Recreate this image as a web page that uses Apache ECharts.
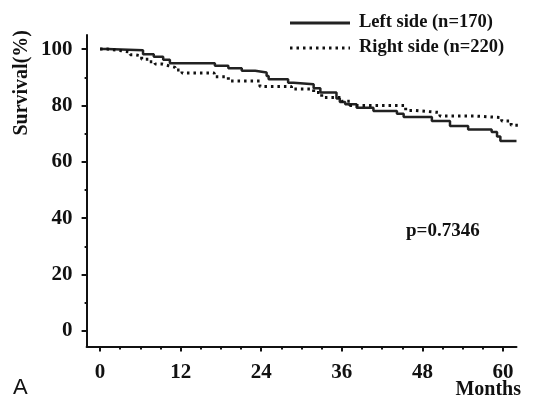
<!DOCTYPE html>
<html>
<head>
<meta charset="utf-8">
<script src="https://cdn.jsdelivr.net/npm/echarts@6/dist/echarts.min.js"></script>
<style>html,body{margin:0;padding:0;background:#fff}#c{width:542px;height:398px}</style>
</head>
<body>
<div id="c"></div>
<script>
// Data (months, survival %)
const leftMonths  = [0, 1, 6.4, 8, 9.4, 10.4, 17.1, 19.1, 21.1, 23.1, 24.8, 25.1, 28.0, 28.8, 31.8, 32.8, 35.2, 35.7, 36.5, 38.2, 40.7, 44.2, 45.2, 49.4, 52.1, 54.8, 58.3, 59.1, 59.6, 62.0];
const leftSurv    = [100, 99.6, 98.2, 97.3, 96.2, 95.0, 94.1, 93.2, 92.3, 91.7, 90.5, 89.3, 88.1, 87.5, 86.1, 84.6, 82.5, 81.2, 80.4, 79.2, 78.0, 77.1, 75.9, 74.5, 72.7, 71.5, 70.6, 69.0, 67.4, 67.4];
const rightMonths = [0, 1, 3.2, 4.5, 5.2, 6.2, 7.2, 8.2, 9.2, 10.2, 11.2, 12.2, 17.0, 19.1, 23.8, 28.5, 31.8, 33.0, 36.0, 37.2, 45.5, 47.0, 50.6, 55.6, 59.8, 61.2, 62.2];
const rightSurv   = [100, 99.4, 98.9, 98.0, 97.6, 96.4, 95.5, 94.7, 94.1, 93.5, 92.6, 91.5, 90.2, 88.7, 86.7, 85.8, 84.6, 82.8, 81.5, 80.0, 78.2, 77.5, 76.3, 75.7, 74.5, 73.0, 73.0];
const seriesNames = ['Left side (n=170)', 'Right side (n=220)'];
const xTicks      = [0, 12, 24, 36, 48, 60];
const xMinorTicks = [3, 6, 9, 15, 18, 21, 27, 30, 33, 39, 42, 45, 51, 54, 57];
const yTicks      = [0, 20, 40, 60, 80, 100];
const yMinorTicks = [10, 30, 50, 70, 90];

const serif = '"Liberation Serif", "Times New Roman", serif';
const pairs = (xs, ys) => xs.map((x, i) => [x, ys[i]]);
const solidStyle  = {color: '#222', width: 2.5, type: 'solid'};
const dottedStyle = {color: '#111', width: 3, type: [2.5, 4]};

const chart = echarts.init(document.getElementById('c'), null, {renderer: 'canvas'});
chart.setOption({
  animation: false,
  backgroundColor: '#fff',
  grid: {left: 86.6, right: 25.5, top: 35, bottom: 51.5, containLabel: false},
  xAxis: [{
    type: 'value', min: -2, max: 62,
    axisLine: {show: true, onZero: false, lineStyle: {color: '#111', width: 2}},
    axisTick: {show: true, customValues: xTicks, length: 5, inside: false, lineStyle: {color: '#111', width: 2}},
    axisLabel: {customValues: xTicks, margin: 16, fontFamily: serif, fontWeight: 'bold', fontSize: 21, color: '#111'},
    splitLine: {show: false}
  }, {
    type: 'value', min: -2, max: 62, position: 'bottom',
    axisLine: {show: false, onZero: false},
    axisTick: {show: true, customValues: xMinorTicks, length: 3, lineStyle: {color: '#111', width: 2}},
    axisLabel: {show: false},
    splitLine: {show: false}
  }],
  yAxis: [{
    type: 'value', min: -5.5, max: 105,
    axisLine: {show: true, onZero: false, lineStyle: {color: '#111', width: 2}},
    axisTick: {show: true, customValues: yTicks, length: 5, lineStyle: {color: '#111', width: 2}},
    axisLabel: {customValues: yTicks, margin: 14, fontFamily: serif, fontWeight: 'bold', fontSize: 21, color: '#111'},
    splitLine: {show: false}
  }, {
    type: 'value', min: -5.5, max: 105, position: 'left',
    axisLine: {show: false, onZero: false},
    axisTick: {show: true, customValues: yMinorTicks, length: 2, lineStyle: {color: '#111', width: 2}},
    axisLabel: {show: false},
    splitLine: {show: false}
  }],
  series: [{
    name: seriesNames[0], type: 'line', step: 'end', symbol: 'none', showSymbol: false,
    xAxisIndex: 0, yAxisIndex: 0,
    lineStyle: solidStyle, itemStyle: {color: '#222'},
    data: pairs(leftMonths, leftSurv)
  }, {
    name: seriesNames[1], type: 'line', step: 'end', symbol: 'none', showSymbol: false,
    xAxisIndex: 0, yAxisIndex: 0,
    lineStyle: dottedStyle, itemStyle: {color: '#111'},
    data: pairs(rightMonths, rightSurv)
  }],
  graphic: [
    // legend
    {type: 'line', shape: {x1: 290, y1: 23, x2: 350, y2: 23}, style: {stroke: '#222', lineWidth: 3}},
    {type: 'text', left: 359, top: 13, style: {
      text: seriesNames[0], fontFamily: serif, fontWeight: 'bold', fontSize: 18.5, fill: '#111'}},
    {type: 'line', shape: {x1: 290, y1: 48, x2: 350, y2: 48}, style: {stroke: '#111', lineWidth: 3, lineDash: [2.5, 4]}},
    {type: 'text', left: 359, top: 38, style: {
      text: seriesNames[1], fontFamily: serif, fontWeight: 'bold', fontSize: 18.5, fill: '#111'}},
    {type: 'text', left: 12, top: 30, rotation: Math.PI / 2, style: {
      text: 'Survival(%)', fontFamily: serif, fontWeight: 'bold', fontSize: 20, fill: '#111'}},
    {type: 'text', right: 21, top: 380, style: {
      text: 'Months', fontFamily: serif, fontWeight: 'bold', fontSize: 20, fill: '#111'}},
    {type: 'text', left: 13, top: 377, style: {
      text: 'A', fontFamily: '"Liberation Sans", Arial, sans-serif', fontSize: 22, fill: '#111'}},
    {type: 'text', left: 406, top: 222, style: {
      text: 'p=0.7346', fontFamily: serif, fontWeight: 'bold', fontSize: 19, fill: '#111'}}
  ]
});
</script>
</body>
</html>
